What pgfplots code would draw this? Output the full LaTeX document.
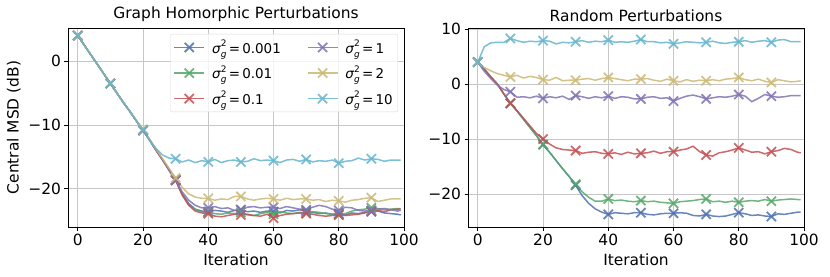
\documentclass[border=0pt]{standalone}
\usepackage{fontspec}
\setmainfont{DejaVu Sans}
\usepackage{pgfplots}
\pgfplotsset{compat=1.18}
\usepackage{pgfplotstable}

\definecolor{cb}{HTML}{4C72B0}
\definecolor{cg}{HTML}{55A868}
\definecolor{cr}{HTML}{C44E52}
\definecolor{cp}{HTML}{8172B2}
\definecolor{cy}{HTML}{CCB974}
\definecolor{cc}{HTML}{64B5CD}

\newcommand{\sg}[1]{\textit{σ}\rlap{\raisebox{-0.3em}{\fontsize{9}{10}\selectfont\textit{g}}}\raisebox{0.48em}{\fontsize{9}{10}\selectfont 2}\,=\,#1}

\pgfplotstableread{
x b g r p y c
0 4.0 4.0 4.0 4.0 4.0 4.0
2 2.5 2.5 2.5 2.5 2.5 2.5
4 1.0 1.0 1.0 1.0 1.0 1.0
6 -0.5 -0.5 -0.5 -0.5 -0.5 -0.5
8 -2.0 -2.0 -2.0 -2.0 -2.0 -2.0
10 -3.5 -3.5 -3.5 -3.5 -3.5 -3.5
12 -5.0 -5.0 -5.0 -5.0 -5.0 -5.0
14 -6.5 -6.5 -6.5 -6.5 -6.5 -6.5
16 -7.9 -7.9 -7.9 -7.9 -7.9 -7.9
18 -9.4 -9.4 -9.4 -9.4 -9.3 -9.4
20 -10.8 -10.8 -10.8 -10.9 -10.7 -10.8
22 -12.3 -12.3 -12.3 -12.4 -12.2 -12.4
24 -13.9 -13.9 -14.0 -14.0 -13.8 -13.7
26 -15.4 -15.5 -15.5 -15.5 -15.3 -14.7
28 -17.0 -17.1 -17.1 -17.1 -16.8 -15.2
30 -18.6 -18.6 -18.7 -18.7 -18.3 -15.3
32 -20.8 -20.9 -21.0 -20.5 -19.8 -15.8
34 -22.3 -22.5 -22.6 -21.8 -20.8 -15.5
36 -23.2 -23.3 -23.5 -22.6 -21.3 -15.9
38 -23.5 -23.6 -23.8 -23.0 -21.5 -15.6
40 -23.6 -23.7 -23.9 -23.0 -21.5 -15.8
42 -23.4 -23.9 -24.3 -22.8 -21.8 -15.4
44 -23.5 -24.0 -24.4 -23.1 -21.6 -15.9
46 -23.7 -23.8 -24.2 -23.0 -21.7 -15.6
48 -23.4 -23.9 -24.0 -23.4 -21.2 -15.5
50 -23.3 -23.7 -24.1 -23.3 -21.2 -15.8
52 -23.6 -24.1 -24.0 -22.9 -21.6 -15.7
54 -23.5 -24.2 -24.2 -22.8 -21.8 -15.3
56 -23.7 -23.9 -24.3 -23.0 -21.6 -15.6
58 -23.5 -23.7 -24.0 -22.9 -21.5 -15.5
60 -23.6 -24.0 -24.6 -22.9 -21.6 -15.6
62 -23.8 -23.6 -24.2 -23.1 -21.8 -15.9
64 -23.4 -23.8 -24.0 -22.8 -21.5 -15.5
66 -23.5 -23.9 -23.9 -23.0 -21.7 -15.4
68 -23.3 -23.7 -23.8 -23.2 -21.6 -15.7
70 -23.5 -23.8 -23.9 -23.3 -21.6 -15.4
72 -23.7 -23.6 -24.0 -22.9 -21.8 -15.8
74 -23.9 -23.7 -24.2 -22.6 -21.7 -15.6
76 -23.8 -23.9 -24.3 -22.8 -22.0 -15.7
78 -24.0 -24.0 -24.2 -23.2 -21.8 -15.5
80 -23.9 -24.1 -24.1 -23.4 -21.9 -16.0
82 -24.1 -23.9 -24.2 -22.9 -22.1 -15.7
84 -23.8 -23.5 -24.1 -23.0 -21.8 -15.6
86 -23.9 -23.3 -24.0 -23.4 -21.7 -15.2
88 -23.7 -23.2 -23.8 -23.5 -21.5 -15.5
90 -23.6 -23.0 -23.5 -23.4 -21.4 -15.3
92 -23.5 -23.1 -23.4 -23.2 -22.0 -15.4
94 -23.8 -23.3 -23.6 -23.1 -21.8 -15.7
96 -23.9 -23.2 -23.3 -23.3 -21.6 -15.5
98 -24.0 -23.1 -23.2 -23.5 -21.6 -15.5
99 -24.1 -23.1 -23.2 -23.4 -21.6 -15.5
}\homdata

\pgfplotstableread{
x b g r p y c
0 4.0 4.0 4.0 4.0 4.0 4.0
2 2.7 2.7 2.7 2.3 3.0 6.8
4 1.3 1.3 1.3 1.0 2.4 7.5
6 0.0 0.0 0.0 -0.2 1.9 7.6
8 -1.8 -1.8 -1.8 -1.0 1.6 7.6
10 -3.5 -3.5 -3.5 -1.4 1.3 8.3
12 -4.9 -4.9 -4.8 -2.4 1.6 7.9
14 -6.4 -6.4 -6.2 -2.3 1.1 7.6
16 -7.9 -7.9 -7.6 -2.5 1.4 7.8
18 -9.4 -9.4 -9.0 -2.2 1.2 7.7
20 -11.0 -11.0 -10.0 -2.6 0.8 7.9
22 -12.4 -12.4 -10.9 -2.3 0.7 7.8
24 -13.9 -13.9 -11.6 -2.5 1.2 7.3
26 -15.4 -15.4 -11.9 -2.2 0.6 7.6
28 -16.8 -16.8 -12.0 -2.8 0.7 7.5
30 -18.4 -18.2 -12.1 -2.1 0.7 7.7
32 -20.3 -19.6 -12.6 -2.3 0.9 7.9
34 -21.7 -20.6 -12.4 -2.6 1.0 7.6
36 -22.7 -21.3 -12.3 -2.3 0.7 7.8
38 -23.3 -21.3 -12.6 -2.5 1.0 7.7
40 -23.7 -20.9 -12.7 -2.2 1.2 8.0
42 -23.4 -21.2 -12.5 -2.6 1.0 7.6
44 -23.5 -21.1 -12.8 -2.3 0.8 7.7
46 -23.6 -21.3 -12.4 -2.4 0.6 7.6
48 -23.4 -21.4 -12.7 -2.7 0.9 7.8
50 -23.4 -21.2 -12.6 -2.7 0.9 8.1
52 -23.7 -21.4 -12.5 -2.4 1.0 7.7
54 -23.8 -21.3 -12.2 -2.3 0.7 7.7
56 -23.6 -21.5 -12.6 -2.6 0.5 7.5
58 -23.5 -21.6 -12.3 -2.5 0.9 7.6
60 -23.5 -21.7 -12.3 -3.1 0.6 7.3
62 -23.4 -21.4 -12.0 -2.6 0.4 7.5
64 -23.5 -21.3 -11.8 -2.2 0.8 7.7
66 -23.9 -21.2 -11.3 -2.0 0.5 7.6
68 -24.0 -21.0 -12.3 -2.3 0.7 7.5
70 -23.7 -20.9 -12.9 -2.7 0.6 7.6
72 -24.0 -21.4 -13.1 -2.5 0.8 7.8
74 -24.1 -21.3 -12.5 -2.3 0.6 7.5
76 -24.0 -21.5 -12.3 -2.4 0.9 7.4
78 -23.7 -21.3 -12.0 -2.2 1.0 7.6
80 -23.4 -21.5 -11.6 -1.9 1.2 7.7
82 -23.6 -21.3 -12.0 -2.2 0.8 7.9
84 -23.9 -21.2 -12.4 -3.2 0.6 7.6
86 -23.8 -21.3 -12.3 -2.6 0.9 7.8
88 -24.0 -21.0 -12.7 -1.9 0.5 7.9
90 -24.1 -21.3 -12.3 -2.2 0.3 7.6
92 -23.6 -21.1 -12.1 -2.4 0.8 8.0
94 -23.7 -21.0 -11.7 -2.3 0.6 8.1
96 -23.5 -20.9 -11.9 -2.1 0.4 7.7
98 -23.3 -21.0 -12.4 -2.1 0.5 7.7
99 -23.3 -21.0 -12.5 -2.1 0.6 7.7
}\randdata

\pgfplotsset{
  mystyle/.style={
    scale only axis, width=336bp, height=199bp,
    xmin=-3, xmax=100, ymin=-26,
    xtick={0,20,40,60,80,100},
    grid=major, grid style={color=black!22, line width=0.8bp},
    axis line style={line width=0.8bp},
    tick style={black, line width=0.8bp}, tick align=outside, major tick length=3.5bp,
    xtick pos=left, ytick pos=left,
    /pgf/number format/assume math mode=true,
    ticklabel style={font=\fontsize{15.5}{18}\selectfont},
    label style={font=\fontsize{15.5}{18}\selectfont},
    title style={font=\fontsize{15.5}{18}\selectfont, yshift=-3bp},
    xlabel={Iteration},
    xlabel style={yshift=-1bp},
    every axis plot/.append style={line width=1.5bp, opacity=0.85, mark=x, mark size=6.5bp,
      mark options={line width=1.8bp, solid}, mark indices={1,6,11,16,21,26,31,36,41,46}},
    legend image code/.code={\draw[line width=1.5bp, mark indices={2}] plot coordinates {(0bp,0bp) (15bp,0bp) (30bp,0bp)};},
  }
}

\begin{document}
\begin{tikzpicture}
\path[use as bounding box] (-68bp,-50bp) rectangle (762bp,227bp);
\begin{axis}[mystyle, at={(0bp,0bp)}, anchor=south west,
  ymax=5.2, ytick={-20,-10,0}, yticklabels={−20,−10,0},
  title={Graph Homorphic Perturbations},
  ylabel={Central MSD (dB)}, ylabel style={yshift=1bp},
  legend columns=3, transpose legend,
  legend style={at={(0.982,0.97)}, anchor=north east, draw=black!15, rounded corners=2bp,
    fill=white, fill opacity=0.8, text opacity=1, font=\fontsize{13.5}{16}\selectfont,
    inner xsep=3bp, inner ysep=4bp, row sep=7bp,
    /tikz/every odd column/.append style={column sep=5bp},
    /tikz/every even column/.append style={column sep=24bp}},
  legend cell align=left]
\addplot[cb] table[x=x,y=b]{\homdata}; \addlegendentry{\sg{0.001}}
\addplot[cg] table[x=x,y=g]{\homdata}; \addlegendentry{\sg{0.01}}
\addplot[cr] table[x=x,y=r]{\homdata}; \addlegendentry{\sg{0.1}}
\addplot[cp] table[x=x,y=p]{\homdata}; \addlegendentry{\sg{1}}
\addplot[cy] table[x=x,y=y]{\homdata}; \addlegendentry{\sg{2}}
\addplot[cc] table[x=x,y=c]{\homdata}; \addlegendentry{\sg{10}}
\end{axis}
\begin{axis}[mystyle, at={(400bp,0bp)}, anchor=south west,
  ymax=10.2, ytick={-20,-10,0,10}, yticklabels={−20,−10,0,10},
  title={Random Perturbations}]
\addplot[cb] table[x=x,y=b]{\randdata};
\addplot[cg] table[x=x,y=g]{\randdata};
\addplot[cr] table[x=x,y=r]{\randdata};
\addplot[cp] table[x=x,y=p]{\randdata};
\addplot[cy] table[x=x,y=y]{\randdata};
\addplot[cc] table[x=x,y=c]{\randdata};
\end{axis}
\end{tikzpicture}
\end{document}
